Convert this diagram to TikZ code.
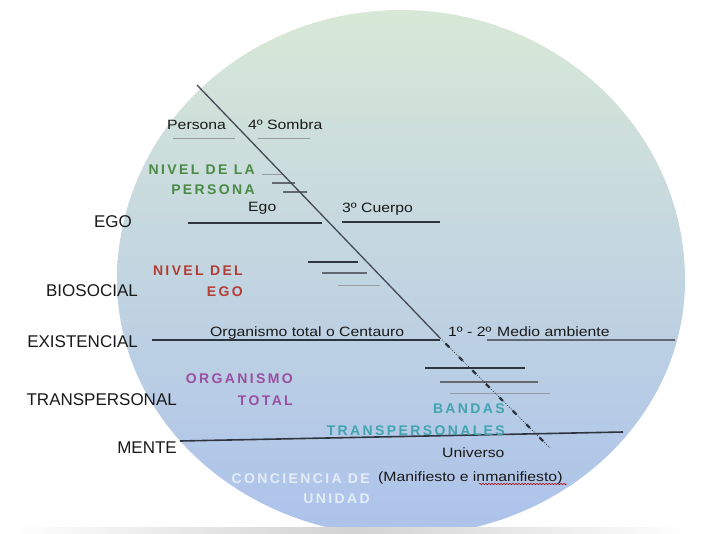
\documentclass[tikz,border=0pt]{standalone}
\usepackage{fontspec}
\setmainfont{Liberation Sans}
\newfontfamily\smallfont[FakeStretch=1.17]{Liberation Sans}
\newfontfamily\lvlfont[LetterSpace=17]{Liberation Sans}
\usetikzlibrary{decorations.pathmorphing}
\definecolor{linecol}{HTML}{2F3540}
\definecolor{topcol}{HTML}{D8E8D6}
\definecolor{midcol}{HTML}{C6D8E2}
\definecolor{botcol}{HTML}{ACC2EB}
\definecolor{cgreen}{HTML}{4A8A46}
\definecolor{cred}{HTML}{B33E36}
\definecolor{cpurple}{HTML}{9A4FA0}
\definecolor{cteal}{HTML}{42A4AF}
\definecolor{clight}{HTML}{E4ECF8}
\tikzset{
  leftlab/.style={anchor=base east, inner sep=0pt, font=\fontsize{17}{20}\selectfont, text=black!90},
  smalllab/.style={anchor=base west, inner sep=0pt, font=\smallfont\fontsize{13.5}{16}\selectfont, text=black!90},
  lvl/.style={anchor=base east, inner sep=0pt, font=\lvlfont\bfseries\fontsize{14}{16}\selectfont},
  mainline/.style={line width=1.4pt, draw=linecol},
  midline/.style={line width=1.1pt, draw=linecol!75},
  lightline/.style={line width=1pt, draw=linecol!50},
}
\begin{document}
\begin{tikzpicture}[x=1pt,y=-1pt]
\useasboundingbox (0,0) rectangle (701,534);
% background shape
\begin{scope}
\clip (0,0) rectangle (701,527);
\path[top color=topcol, middle color=midcol, bottom color=botcol]
  (117,280) arc[start angle=180, end angle=0, x radius=284pt, y radius=270pt]
  arc[start angle=0, end angle=-180, x radius=284pt, y radius=256pt] -- cycle;
\end{scope}
% bottom shadow band
\fill[left color=white, right color=white, middle color=gray!35] (10,527) rectangle (692,533);

% level lines
\draw[lightline] (173,139) -- (235,139);
\draw[lightline] (258,139) -- (310,139);
\draw[lightline] (262,175) -- (284,175);
\draw[midline] (272,183) -- (295,183);
\draw[midline] (283,192) -- (307,192);
\draw[mainline] (188,223) -- (322,223);
\draw[mainline] (342,222) -- (440,222);
\draw[mainline] (308,262) -- (358,262);
\draw[midline] (322,273) -- (367,273);
\draw[lightline] (338,286) -- (380,286);
\draw[mainline] (152,340) -- (440,340);
\draw[midline] (487,340) -- (675,340);
\draw[mainline] (425,368) -- (525,368);
\draw[midline] (440,382) -- (538,382);
\draw[lightline] (450,393) -- (550,393);
\draw[line width=1.6pt, draw=linecol] (180,441) -- (623,432);

% diagonal
\coordinate (d0) at (197,85);
\coordinate (d1) at (440,338);
\coordinate (d2) at (550,448);
\draw[line width=1.3pt, draw=linecol!90] (d0) -- (d1);
\draw[line width=0.7pt, draw=linecol, dash pattern=on 1pt off 1.5pt] (d1) -- (d2);
\draw[line width=2.4pt, draw=linecol, dash pattern=on 5pt off 14pt, dash phase=-8pt] (d1) -- (d2);

% left labels
\node[leftlab] (egoL) at (132,228) {EGO};
\node[leftlab] (bioL) at (138,297) {BIOSOCIAL};
\node[leftlab] (exiL) at (138,348) {EXISTENCIAL};
\node[leftlab] (traL) at (177,405) {TRANSPERSONAL};
\node[leftlab] (menL) at (177,453) {MENTE};

% small labels
\node[smalllab] (persona) at (167,130) {Persona};
\node[smalllab] (sombra) at (248,130) {4º Sombra};
\node[smalllab] (ego) at (248,212) {Ego};
\node[smalllab] (cuerpo) at (342,213) {3º Cuerpo};
\node[smalllab] (centauro) at (210,337) {Organismo total o Centauro};
\node[smalllab] (uno) at (448,337) {1º - 2º};
\node[smalllab] (medio) at (497,337) {Medio ambiente};
\node[smalllab] (universo) at (442,457) {Universo};
\node[smalllab] (manif) at (378,481) {(Manifiesto e inmanifiesto)};
\draw[red!70!black, line width=0.5pt, decorate, decoration={snake, amplitude=0.7pt, segment length=3pt}] (479,484) -- (567,484);

% level labels
\node[lvl, text=cgreen] (nper1) at (255,175) {NIVEL DE LA};
\node[lvl, text=cgreen] (nper2) at (255,195) {PERSONA};
\node[lvl, text=cred] (nego1) at (243,276) {NIVEL DEL};
\node[lvl, text=cred] (nego2) at (243,297) {EGO};
\node[lvl, text=cpurple] (norg1) at (293,383) {ORGANISMO};
\node[lvl, text=cpurple] (norg2) at (293,405) {TOTAL};
\node[lvl, text=cteal] (nban1) at (505,413) {BANDAS};
\node[lvl, text=cteal] (nban2) at (505,435) {TRANSPERSONALES};
\node[lvl, text=clight] (ncon1) at (370,483) {CONCIENCIA DE};
\node[lvl, text=clight] (ncon2) at (370,503) {UNIDAD};
\end{tikzpicture}
\end{document}
